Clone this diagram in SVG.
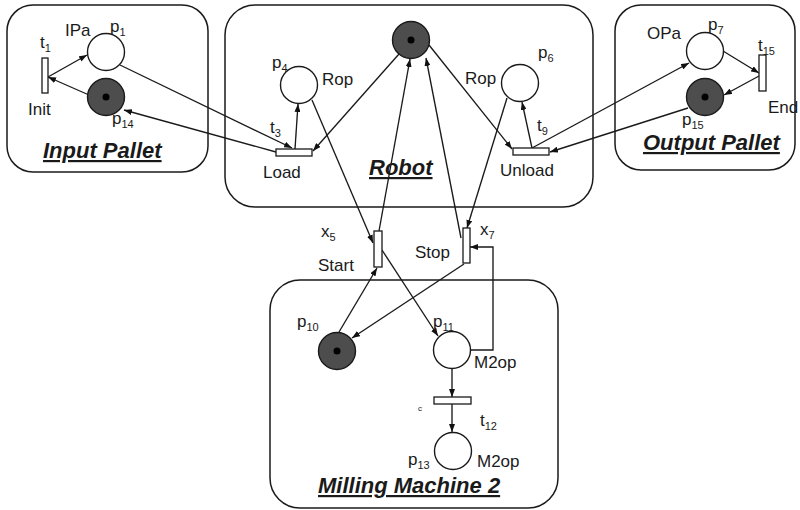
<svg xmlns="http://www.w3.org/2000/svg" width="800" height="510" viewBox="0 0 800 510">
<style>
.box{fill:none;stroke:#1a1a1a;stroke-width:1.5}
.pl{fill:#fff;stroke:#1a1a1a;stroke-width:1.4}
.mk{fill:#4d4d4d;stroke:#1a1a1a;stroke-width:1.4}
.tr{fill:#fff;stroke:#1a1a1a;stroke-width:1.3}
.arc{fill:none;stroke:#1a1a1a;stroke-width:1.35;marker-end:url(#ah)}
text{font-family:"Liberation Sans",Arial,sans-serif;font-size:17px;fill:#1a1a1a}
.sub{font-size:11px}
.title{font-size:22px;font-weight:bold;font-style:italic;text-decoration:underline}
</style>
<defs>
<marker id="ah" markerUnits="userSpaceOnUse" markerWidth="8" markerHeight="6" refX="8" refY="3" orient="auto">
<path d="M0,0 L8,3 L0,6 z" fill="#111"/>
</marker>
</defs>
<g id="boxes">
<rect id="input-pallet" class="box" x="7" y="5" width="201" height="167" rx="26"/>
<rect id="robot-box" class="box" x="225" y="5" width="368" height="202" rx="30"/>
<rect id="output-pallet" class="box" x="615" y="5" width="180" height="165" rx="26"/>
<rect id="milling-box" class="box" x="270" y="280" width="288" height="228" rx="30"/>
<text class="title" x="43" y="158">Input Pallet</text>
<text class="title" x="369" y="175">Robot</text>
<text class="title" x="643" y="150">Output Pallet</text>
<text class="title" x="318" y="493">Milling Machine 2</text>
</g>
<g id="connectors">
<line class="arc" x1="48" y1="77" x2="87" y2="55"/>
<line class="arc" x1="89" y1="95" x2="48" y2="77"/>
<line class="arc" x1="120" y1="65" x2="292" y2="148"/>
<line class="arc" x1="276" y1="152" x2="124" y2="110"/>
<line class="arc" x1="295" y1="149" x2="298" y2="104"/>
<line class="arc" x1="399" y1="54" x2="313" y2="151"/>
<line class="arc" x1="312" y1="100" x2="373" y2="243"/>
<line class="arc" x1="379" y1="231" x2="410" y2="59"/>
<line class="arc" x1="382" y1="250" x2="438" y2="336"/>
<line class="arc" x1="339" y1="332" x2="377" y2="268"/>
<line class="arc" x1="464" y1="264" x2="352" y2="338"/>
<polyline class="arc" points="471,350 493,350 493,247 470,247"/>
<line class="arc" x1="507" y1="98" x2="467" y2="228"/>
<line class="arc" x1="461" y1="238" x2="426" y2="58"/>
<line class="arc" x1="429" y1="45" x2="512" y2="149"/>
<line class="arc" x1="532" y1="148" x2="522" y2="102"/>
<line class="arc" x1="532" y1="148" x2="689" y2="63"/>
<line class="arc" x1="688" y1="108" x2="550" y2="152"/>
<line class="arc" x1="723" y1="51" x2="759" y2="73"/>
<line class="arc" x1="759" y1="76" x2="724" y2="95"/>
<line class="arc" x1="452" y1="369" x2="452" y2="397"/>
<line class="arc" x1="452" y1="404" x2="452" y2="432"/>
</g>
<g id="p1"><circle class="pl" cx="106" cy="52" r="18.5"/><text x="65" y="36">IPa</text><text x="110" y="32">p<tspan class="sub" dy="4">1</tspan></text></g>
<g id="p14"><circle class="mk" cx="106" cy="97" r="18.5"/><circle cx="106" cy="97" r="3.5" fill="#000"/><text x="112" y="124">p<tspan class="sub" dy="4">14</tspan></text></g>
<g id="t1"><rect class="tr" x="42" y="58" width="6" height="35"/><text x="40" y="48">t<tspan class="sub" dy="4">1</tspan></text><text x="28" y="115">Init</text></g>
<g id="p4"><circle class="pl" cx="299" cy="85" r="18.5"/><text x="272" y="68">p<tspan class="sub" dy="4">4</tspan></text><text x="322" y="85">Rop</text></g>
<g id="t3"><rect class="tr" x="276" y="149" width="36" height="7"/><text x="270" y="133">t<tspan class="sub" dy="4">3</tspan></text><text x="263" y="178">Load</text></g>
<g id="robot"><circle class="mk" cx="411" cy="40" r="18.5"/><circle cx="411" cy="40" r="3.5" fill="#000"/></g>
<g id="p6"><circle class="pl" cx="520" cy="83" r="18.5"/><text x="538" y="58">p<tspan class="sub" dy="4">6</tspan></text><text x="465" y="84">Rop</text></g>
<g id="t9"><rect class="tr" x="513" y="148" width="36" height="7"/><text x="537" y="131">t<tspan class="sub" dy="4">9</tspan></text><text x="500" y="176">Unload</text></g>
<g id="p7"><circle class="pl" cx="705" cy="51" r="18.5"/><text x="647" y="39">OPa</text><text x="708" y="30">p<tspan class="sub" dy="4">7</tspan></text></g>
<g id="p15"><circle class="mk" cx="705" cy="97" r="18.5"/><circle cx="705" cy="97" r="3.5" fill="#000"/><text x="682" y="125">p<tspan class="sub" dy="4">15</tspan></text></g>
<g id="t15"><rect class="tr" x="759" y="55" width="7" height="36"/><text x="758" y="51">t<tspan class="sub" dy="4">15</tspan></text><text x="768" y="113">End</text></g>
<g id="x5"><rect class="tr" x="374" y="231" width="8" height="36"/><text x="321" y="237">x<tspan class="sub" dy="4">5</tspan></text><text x="318" y="271">Start</text></g>
<g id="x7"><rect class="tr" x="463" y="228" width="7" height="35"/><text x="480" y="235">x<tspan class="sub" dy="4">7</tspan></text><text x="415" y="258">Stop</text></g>
<g id="p10"><circle class="mk" cx="337" cy="351" r="18.5"/><circle cx="337" cy="351" r="3.5" fill="#000"/><text x="297" y="327">p<tspan class="sub" dy="4">10</tspan></text></g>
<g id="p11"><circle class="pl" cx="452" cy="350" r="18.5"/><text x="433" y="327">p<tspan class="sub" dy="4">11</tspan></text><text x="474" y="368">M2op</text></g>
<g id="t12"><rect class="tr" x="434" y="397" width="37" height="7"/><text x="480" y="426">t<tspan class="sub" dy="4">12</tspan></text><text x="418" y="411" style="font-size:8px">c</text></g>
<g id="p13"><circle class="pl" cx="453" cy="451" r="18.5"/><text x="408" y="465">p<tspan class="sub" dy="4">13</tspan></text><text x="477" y="467">M2op</text></g>
</svg>
